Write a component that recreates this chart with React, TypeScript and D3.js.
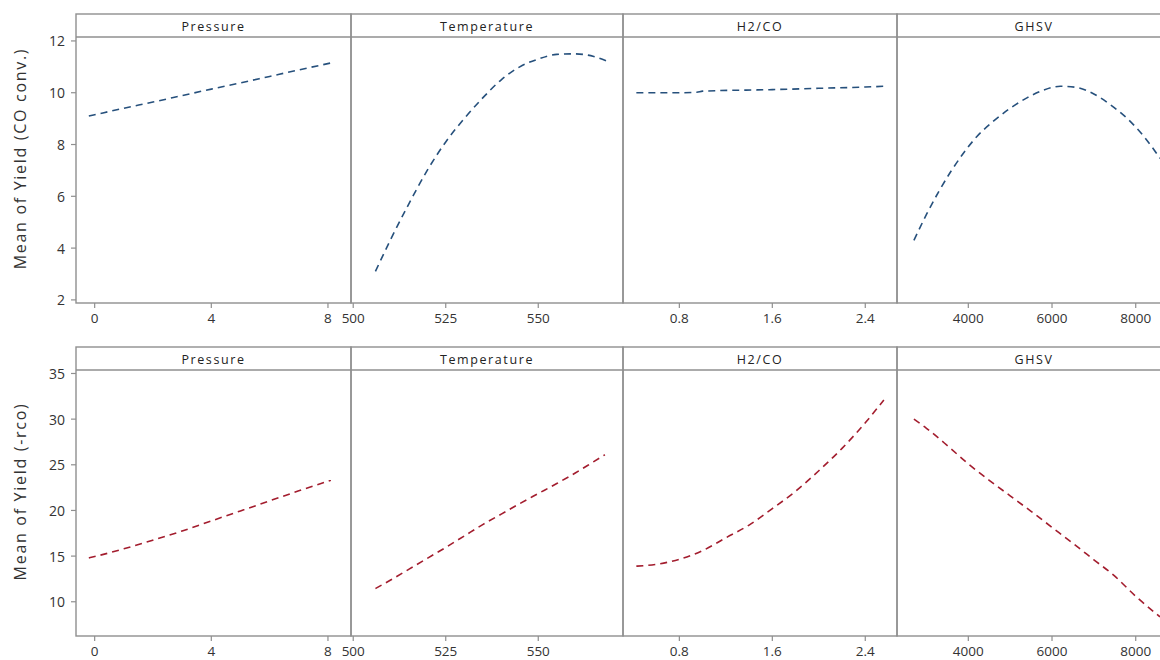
import React from "react";
import * as d3 from "d3";

// Factor levels and fitted mean responses for each panel
const factors = ["Pressure", "Temperature", "H2/CO", "GHSV"];

const pressureX = [-0.2, 0, 1, 2, 3, 4, 5, 6, 7, 8.1];
const pressureConv = [9.1, 9.15, 9.4, 9.64, 9.89, 10.14, 10.38, 10.63, 10.88, 11.15];
const pressureRate = [14.8, 14.95, 15.8, 16.75, 17.75, 18.85, 19.95, 21.05, 22.15, 23.3];

const temperatureX = [506, 510, 515, 520, 525, 530, 535, 540, 545, 550, 555, 560, 565, 569];
const temperatureConv = [3.1, 4.3, 5.7, 7.0, 8.1, 9.0, 9.8, 10.5, 11.0, 11.3, 11.48, 11.5, 11.4, 11.2];
const temperatureRateX = [506, 510, 515, 520, 525, 530, 535, 540, 545, 550, 555, 560, 565, 568];
const temperatureRate = [11.45, 12.35, 13.55, 14.75, 15.95, 17.2, 18.45, 19.6, 20.75, 21.85, 22.95, 24.1, 25.35, 26.1];

const ratioConvX = [0.43, 0.8, 0.95, 1.0, 1.6, 2.0, 2.4, 2.56];
const ratioConv = [10.0, 10.0, 10.02, 10.06, 10.12, 10.17, 10.22, 10.25];
const ratioRateX = [0.43, 0.6, 0.8, 1.0, 1.2, 1.4, 1.6, 1.8, 2.0, 2.2, 2.4, 2.56];
const ratioRate = [13.9, 14.1, 14.65, 15.6, 17.0, 18.4, 20.2, 22.1, 24.35, 26.8, 29.6, 32.1];

const ghsvConvX = [2700, 3000, 3300, 3600, 3900, 4200, 4600, 5000, 5400, 5800, 6200, 6600, 7000, 7400, 7800, 8200, 8580];
const ghsvConv = [4.3, 5.3, 6.2, 7.0, 7.7, 8.3, 8.9, 9.4, 9.8, 10.1, 10.25, 10.2, 9.95, 9.53, 9.0, 8.3, 7.47];
const ghsvRateX = [2700, 3000, 3500, 4000, 4500, 5000, 5500, 6000, 6500, 7000, 7500, 8000, 8580];
const ghsvRate = [30.0, 29.0, 27.1, 25.1, 23.3, 21.6, 19.9, 18.15, 16.4, 14.6, 12.8, 10.6, 8.35];

// Axis ticks
const xTicks = [
  [0, 4, 8],
  [500, 525, 550],
  [0.8, 1.6, 2.4],
  [4000, 6000, 8000],
];
const xTickLabels = [
  ["0", "4", "8"],
  ["500", "525", "550"],
  ["0.8", "1.6", "2.4"],
  ["4000", "6000", "8000"],
];
const xDomains: [number, number][] = [
  [-0.64, 8.79],
  [499.4, 572.9],
  [0.315, 2.673],
  [2296, 8843],
];
const convTicks = [2, 4, 6, 8, 10, 12];
const rateTicks = [10, 15, 20, 25, 30, 35];

const rows = [
  {
    title: "Mean of Yield (CO conv.)",
    yDomain: [1.88, 13.04] as [number, number],
    yTicks: convTicks,
    color: "#26507c",
    series: [
      { x: pressureX, y: pressureConv },
      { x: temperatureX, y: temperatureConv },
      { x: ratioConvX, y: ratioConv },
      { x: ghsvConvX, y: ghsvConv },
    ],
  },
  {
    title: "Mean of Yield (-rco)",
    yDomain: [6.25, 37.9] as [number, number],
    yTicks: rateTicks,
    color: "#a31d2e",
    series: [
      { x: pressureX, y: pressureRate },
      { x: temperatureRateX, y: temperatureRate },
      { x: ratioRateX, y: ratioRate },
      { x: ghsvRateX, y: ghsvRate },
    ],
  },
];

const W = 1160;
const H = 660;
const panelEdges = [76, 351, 623, 897, 1171];
const rowBoxes = [
  { top: 14, header: 37, bottom: 303 },
  { top: 347, header: 370, bottom: 636 },
];
const frame = "#8f8f8f";
const textColor = "#333";
const font = "'Open Sans', 'DejaVu Sans', sans-serif";

export default function App() {
  return (
    <svg
      width={W}
      height={H}
      style={{ position: "absolute", left: 0, top: 0, background: "#fff" }}
      fontFamily={font}
    >
      {rows.map((row, ri) => {
        const box = rowBoxes[ri];
        const y = d3.scaleLinear().domain(row.yDomain).range([box.bottom, box.top]);
        const left = panelEdges[0];
        return (
          <g key={ri}>
            {/* y axis */}
            <text
              transform={`translate(22,${(box.top + box.bottom) / 2}) rotate(-90)`}
              textAnchor="middle"
              dominantBaseline="middle"
              fontSize={16}
              letterSpacing={1.7}
              fill={textColor}
            >
              {row.title}
            </text>
            {row.yTicks.map((t) => (
              <g key={t}>
                <line x1={left - 5} x2={left} y1={y(t)} y2={y(t)} stroke={frame} strokeWidth={1.2} />
                <text
                  x={left - 11}
                  y={y(t)}
                  textAnchor="end"
                  dominantBaseline="central"
                  fontSize={14}
                  fill={textColor}
                >
                  {t}
                </text>
              </g>
            ))}
            {factors.map((name, pi) => {
              const x0 = panelEdges[pi];
              const x1 = panelEdges[pi + 1];
              const x = d3.scaleLinear().domain(xDomains[pi]).range([x0, x1]);
              const s = row.series[pi];
              const pts: [number, number][] = s.x.map((v, i) => [v, s.y[i]]);
              const line = d3
                .line<[number, number]>()
                .x((d) => x(d[0]))
                .y((d) => y(d[1]))
                .curve(d3.curveMonotoneX);
              return (
                <g key={name}>
                  <rect
                    x={x0}
                    y={box.top}
                    width={x1 - x0}
                    height={box.bottom - box.top}
                    fill="none"
                    stroke={frame}
                    strokeWidth={1.4}
                  />
                  <line x1={x0} x2={x1} y1={box.header} y2={box.header} stroke={frame} strokeWidth={1.4} />
                  <text
                    x={(x0 + x1) / 2}
                    y={(box.top + box.header) / 2 + 1}
                    textAnchor="middle"
                    dominantBaseline="central"
                    fontSize={12.5}
                    letterSpacing={1.6}
                    fill="#222"
                  >
                    {name}
                  </text>
                  {xTicks[pi].map((t, ti) => (
                    <g key={t}>
                      <line
                        x1={x(t)}
                        x2={x(t)}
                        y1={box.bottom}
                        y2={box.bottom + 5}
                        stroke={frame}
                        strokeWidth={1.2}
                      />
                      <text
                        x={x(t)}
                        y={box.bottom + 15}
                        textAnchor="middle"
                        dominantBaseline="central"
                        fontSize={13.5}
                        fill={textColor}
                      >
                        {xTickLabels[pi][ti]}
                      </text>
                    </g>
                  ))}
                  <path
                    d={line(pts) ?? ""}
                    fill="none"
                    stroke={row.color}
                    strokeWidth={1.6}
                    strokeDasharray="7 5"
                  />
                </g>
              );
            })}
          </g>
        );
      })}
    </svg>
  );
}
